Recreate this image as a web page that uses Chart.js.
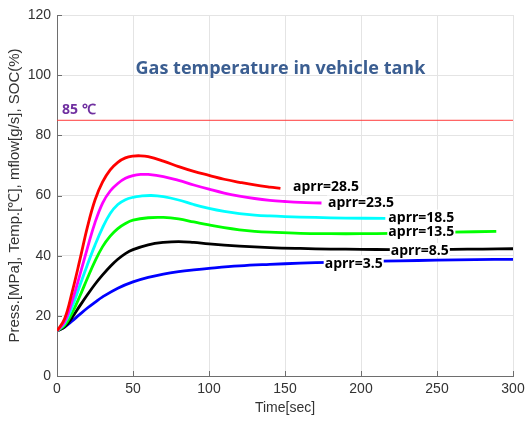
<!DOCTYPE html>
<html>
<head>
<meta charset="utf-8">
<script src="https://cdn.jsdelivr.net/npm/chart.js@4.4.1/dist/chart.umd.min.js"></script>
<style>
html,body{margin:0;padding:0;background:#fff;}
canvas{display:block;}
</style>
</head>
<body>
<canvas id="c" width="525" height="421"></canvas>
<script>
// ---- data ----
const tR = [0,5,10,15,20,25,30,35,40,45,50,55,60,70,80,90,100,110,120,130,140,147];
const vR = [15,19,28,38.5,49.5,58.5,64.5,68.5,71,72.5,73.1,73.2,72.9,71.4,69.6,68,66.7,65.4,64.4,63.5,62.8,62.4];
const tM = [0,5,10,15,20,25,30,35,40,45,50,55,60,70,80,90,100,110,120,130,140,150,160,174];
const vM = [15,18,25,33.5,42.5,51,57.5,61.5,64,65.7,66.6,67,67,66.3,65,63.5,62.1,60.8,59.8,59,58.4,58,57.7,57.5];
const tC = [0,5,10,15,20,25,30,35,40,45,50,55,62,70,80,90,100,110,120,130,140,150,170,190,216];
const vC = [15,17.5,23,30,37,43.5,49.3,54,57,58.6,59.4,59.8,60,59.6,58.5,57,55.7,54.7,54,53.5,53.2,53,52.7,52.5,52.4];
const tG = [0,5,10,15,20,25,30,35,40,45,50,60,70,80,90,100,110,120,130,140,160,180,200,220,240,260,289];
const vG = [15,16.8,21,26.5,32.5,38.2,43,46.5,49,50.7,51.8,52.6,52.7,52.2,51.2,50.2,49.3,48.6,48.1,47.8,47.4,47.3,47.3,47.4,47.6,47.8,48.1];
const tK = [0,5,10,15,20,25,30,35,40,45,50,60,70,80,90,100,120,140,160,180,200,220,240,260,280,300];
const vK = [15,16.3,19.5,23.3,27,30.5,33.6,36.4,38.8,40.7,42,43.6,44.4,44.7,44.4,43.9,43.2,42.7,42.4,42.2,42.1,42,42,42.1,42.2,42.3];
const tB = [0,5,10,15,20,25,30,40,50,60,70,80,90,100,120,140,160,180,200,225,250,275,300];
const vB = [15,16.3,18.3,20.5,22.6,24.5,26.3,29.2,31.3,32.8,33.9,34.7,35.3,35.8,36.6,37.1,37.5,37.8,38.1,38.3,38.5,38.7,38.8];
const limitT = [0,300];
const limitV = [85,85];
const seriesNames = ['aprr=28.5','aprr=23.5','aprr=18.5','aprr=13.5','aprr=8.5','aprr=3.5'];
const xTicks = [0,50,100,150,200,250,300];
const yTicks = [0,20,40,60,80,100,120];

// ---- styling / annotation placement ----
const colors = ['#ff0000','#ff00ff','#00ffff','#00ff00','#000000','#0000ff'];
const labelAnchors = [[177,63.2],[200,57.7],[239.7,53.0],[239.7,48.1],[238.7,41.9],[195.2,37.7]];

const pts = (t,v)=>t.map((x,i)=>({x:x,y:v[i]}));
const series = [[tR,vR],[tM,vM],[tC,vC],[tG,vG],[tK,vK],[tB,vB]];

const datasets = [{
  label:'85', data: pts(limitT,limitV), borderColor:'#ff3b3b', borderWidth:1,
  pointRadius:0, fill:false, tension:0
}];
series.forEach((s,i)=>{
  datasets.push({label:seriesNames[i], data:pts(s[0],s[1]), borderColor:colors[i],
    borderWidth:2.8, pointRadius:0, fill:false, tension:0.4});
});

const annot = {
  id:'annot',
  afterDatasetsDraw(chart){
    const ctx = chart.ctx, xs = chart.scales.x, ys = chart.scales.y;
    ctx.save();
    ctx.font = 'bold 14px "Open Sans"';
    ctx.textAlign = 'center'; ctx.textBaseline = 'middle';
    seriesNames.forEach((n,i)=>{
      const px = xs.getPixelForValue(labelAnchors[i][0]);
      const py = ys.getPixelForValue(labelAnchors[i][1]);
      const w = ctx.measureText(n).width;
      ctx.fillStyle = '#ffffff';
      ctx.fillRect(px - w/2 - 1, py - 7, w + 2, 14);
      ctx.fillStyle = '#000000';
      ctx.fillText(n, px, py + 1);
    });
    ctx.font = 'bold 18px "Open Sans"';
    ctx.fillStyle = '#3b5e91';
    ctx.fillText('Gas temperature in vehicle tank', xs.getPixelForValue(147), ys.getPixelForValue(102));
    ctx.font = 'bold 14px "Open Sans"';
    ctx.fillStyle = '#7030a0';
    ctx.textAlign = 'left';
    ctx.fillText('85 ℃', xs.getPixelForValue(3.3), ys.getPixelForValue(88.5));
    ctx.strokeStyle = '#6e6e6e'; ctx.lineWidth = 1;
    ctx.beginPath();
    yTicks.forEach(v=>{ const y = Math.round(ys.getPixelForValue(v))+0.5; ctx.moveTo(chart.chartArea.left, y); ctx.lineTo(chart.chartArea.left+5, y); });
    xTicks.forEach(v=>{ const x = Math.round(xs.getPixelForValue(v))+0.5; ctx.moveTo(x, chart.chartArea.bottom); ctx.lineTo(x, chart.chartArea.bottom-5); });
    ctx.stroke();
    ctx.restore();
  }
};

new Chart(document.getElementById('c'), {
  type:'line',
  data:{datasets},
  options:{
    responsive:false, animation:false,
    layout:{padding:{top:15,right:12,left:0,bottom:0}},
    plugins:{legend:{display:false}, tooltip:{enabled:false}},
    scales:{
      x:{type:'linear', min:0, max:300,
        afterFit(s){ s.height = 45; s.paddingRight = 0; s.paddingLeft = 0; },
        afterBuildTicks(s){ s.ticks = xTicks.map(v=>({value:v})); },
        grid:{color:'#e4e4e4', drawTicks:false},
        border:{display:true, color:'#6e6e6e'},
        ticks:{padding:5, color:'#333333', font:{family:'"Liberation Sans"', size:14}},
        title:{display:true, text:'Time[sec]', color:'#333333', font:{family:'"Liberation Sans"', size:14}, padding:{top:0,bottom:4}}
      },
      y:{type:'linear', min:0, max:120,
        afterFit(s){ s.width = 57; s.paddingTop = 0; s.paddingBottom = 0; },
        afterBuildTicks(s){ s.ticks = yTicks.map(v=>({value:v})); },
        grid:{color:'#e4e4e4', drawTicks:false},
        border:{display:true, color:'#6e6e6e'},
        ticks:{padding:6, color:'#333333', font:{family:'"Liberation Sans"', size:14}},
        title:{display:true, text:'Press.[MPa], Temp.[℃], mflow[g/s], SOC(%)', color:'#333333', font:{family:'"Liberation Sans"', size:15}, padding:{top:6,bottom:0}}
      }
    }
  },
  plugins:[annot]
});
</script>
</body>
</html>
